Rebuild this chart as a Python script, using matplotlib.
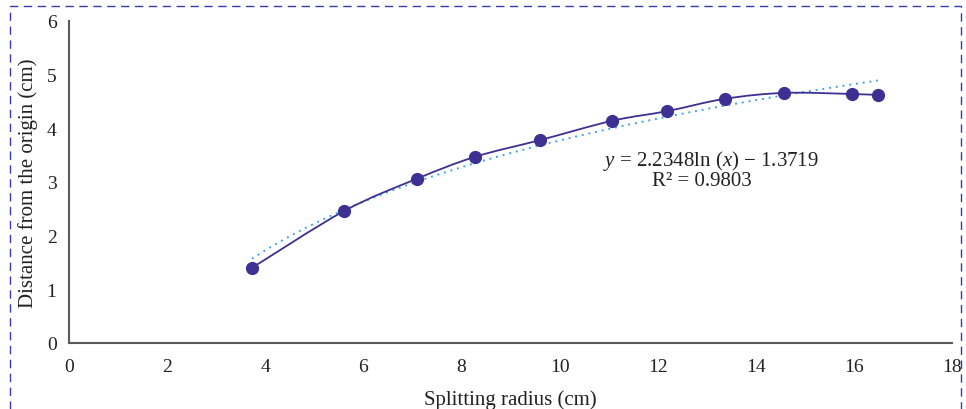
import numpy as np
import matplotlib
matplotlib.use("Agg")
import matplotlib.pyplot as plt
from matplotlib.path import Path
from matplotlib.patches import PathPatch, Rectangle

plt.rcParams['font.family'] = ['Liberation Serif', 'DejaVu Serif']
plt.rcParams['mathtext.fontset'] = 'custom'
plt.rcParams['mathtext.rm'] = 'Liberation Serif'
plt.rcParams['mathtext.it'] = 'Liberation Serif:italic'

# data
splitting_radius = [3.73, 5.61, 7.09, 8.28, 9.60, 11.07, 12.19, 13.37, 14.58, 15.96, 16.49]
distance = [1.40, 2.46, 3.06, 3.47, 3.78, 4.14, 4.32, 4.55, 4.66, 4.64, 4.62]
fit_a = 2.2348
fit_b = -1.3719
r_squared = 0.9803
x_ticks = [0, 2, 4, 6, 8, 10, 12, 14, 16, 18]
y_ticks = [0, 1, 2, 3, 4, 5, 6]

point_color = '#3c3192'
trend_color = '#3fa5e0'

fig = plt.figure(figsize=(9.66, 4.10), dpi=100)
ax = fig.add_axes([69/966, 1-344/410, (952-69)/966, (344-22)/410])

# smoothed line through data (Catmull-Rom style cubic Bezier segments)
xs = np.asarray(splitting_radius)
ys = np.asarray(distance)
n = len(xs)
verts = [(xs[0], ys[0])]
codes = [Path.MOVETO]
t = 1/6
for i in range(n-1):
    p0 = np.array([xs[max(i-1, 0)], ys[max(i-1, 0)]])
    p1 = np.array([xs[i], ys[i]])
    p2 = np.array([xs[i+1], ys[i+1]])
    p3 = np.array([xs[min(i+2, n-1)], ys[min(i+2, n-1)]])
    c1 = p1 + (p2 - p0) * t
    c2 = p2 - (p3 - p1) * t
    verts += [tuple(c1), tuple(c2), tuple(p2)]
    codes += [Path.CURVE4]*3
ax.add_patch(PathPatch(Path(verts, codes), facecolor='none', edgecolor=point_color, lw=1.3, zorder=3))

# trendline
xt = np.linspace(xs.min(), xs.max(), 200)
ax.plot(xt, fit_a*np.log(xt) + fit_b, linestyle=(0, (1, 2.5)), color=trend_color, lw=1.4, zorder=2)

ax.plot(xs, ys, 'o', color=point_color, markersize=8.5, zorder=4)

ax.set_xlim(0, 18)
ax.set_ylim(0, 6)
ax.set_xticks(x_ticks)
ax.set_yticks(y_ticks)
ax.tick_params(axis='x', length=0, labelsize=14, pad=11, colors='#222222')
ax.tick_params(axis='y', length=0, labelsize=14, pad=9, colors='#222222')
for s in ['top', 'right']:
    ax.spines[s].set_visible(False)
for s in ['left', 'bottom']:
    ax.spines[s].set_color('#595959')
    ax.spines[s].set_linewidth(1.5)

ax.set_xlabel('Splitting radius (cm)', fontsize=15, color='#222222', labelpad=10)
ax.set_ylabel('Distance from the origin (cm)', fontsize=15, color='#222222', labelpad=6)

ax.text(711/966, 1-161/410, r'$y$ = %.4fln ($x$) − %.4f' % (fit_a, -fit_b), transform=fig.transFigure,
        ha='center', va='center', fontsize=15, color='#222222')
ax.text(702/966, 1-182/410, 'R² = %.4f' % r_squared, transform=fig.transFigure,
        ha='center', va='center', fontsize=15, color='#222222')

# dashed border
fig.patches.append(Rectangle((10/966, -0.05), (961-10)/966, 1-7/410+0.05, transform=fig.transFigure,
                             fill=False, edgecolor='#3a3ab0', lw=1.0, linestyle=(0, (6, 4))))

fig.savefig('out.png', dpi=100)
